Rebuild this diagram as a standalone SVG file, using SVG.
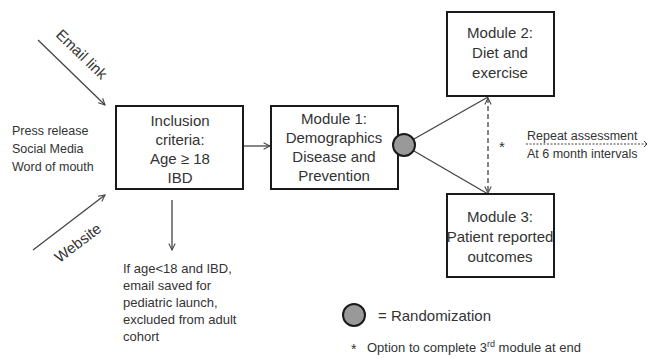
<svg xmlns="http://www.w3.org/2000/svg" width="650" height="358" viewBox="0 0 650 358">
<style>
text{font-family:"Liberation Sans",Arial,sans-serif;fill:#333}
.box{fill:#fff;stroke:#1a1a1a;stroke-width:2}
.bt{font-size:15px;text-anchor:middle}
.ln{stroke:#444;stroke-width:1.3;fill:none}
.sm{font-size:12.5px}
</style>
<defs>
<marker id="ah" viewBox="0 0 10 10" refX="9" refY="5" markerWidth="8" markerHeight="8" orient="auto-start-reverse" markerUnits="userSpaceOnUse">
<path d="M1,1 L9,5 L1,9" fill="none" stroke="#444" stroke-width="1.3"/>
</marker>
</defs>
<rect width="650" height="358" fill="#fff"/>
<g id="connectors">
<line class="ln" x1="38" y1="40" x2="105" y2="105" marker-end="url(#ah)"/>
<line class="ln" x1="33" y1="250" x2="105" y2="195" marker-end="url(#ah)"/>
<line class="ln" x1="243" y1="146" x2="270" y2="146" marker-end="url(#ah)"/>
<line class="ln" x1="172" y1="200" x2="172" y2="250" marker-end="url(#ah)"/>
<line class="ln" x1="414" y1="139" x2="488" y2="97"/>
<line class="ln" x1="414" y1="151" x2="488" y2="194"/>
<line class="ln" x1="488" y1="98" x2="488" y2="193" stroke-dasharray="5,3" marker-start="url(#ah)" marker-end="url(#ah)"/>
<line x1="526" y1="144" x2="646" y2="144" stroke="#444" stroke-width="1" stroke-dasharray="2,1.5"/>
<path d="M644,141 L647,144 L644,147" fill="none" stroke="#444" stroke-width="1"/>
</g>
<g id="sources">
<text class="sm" x="12" y="135">Press release</text>
<text class="sm" x="12" y="153">Social Media</text>
<text class="sm" x="12" y="171">Word of mouth</text>
</g>
<g id="email-label"><text font-size="15" text-anchor="middle" transform="translate(78,58) rotate(44)">Email link</text></g>
<g id="website-label"><text font-size="15" text-anchor="middle" transform="translate(81,247) rotate(-37)">Website</text></g>
<g id="inclusion">
<rect class="box" x="116" y="106" width="127" height="83"/>
<text class="bt" x="180" y="126">Inclusion</text>
<text class="bt" x="180" y="145">criteria:</text>
<text class="bt" x="180" y="164">Age ≥ 18</text>
<text class="bt" x="180" y="183">IBD</text>
</g>
<g id="excluded">
<text font-size="13" x="123" y="273">If age&lt;18 and IBD,</text>
<text font-size="13" x="123" y="290">email saved for</text>
<text font-size="13" x="123" y="307">pediatric launch,</text>
<text font-size="13" x="123" y="324">excluded from adult</text>
<text font-size="13" x="123" y="341">cohort</text>
</g>
<g id="module1">
<rect class="box" x="271" y="106" width="127" height="83"/>
<text class="bt" x="334" y="124">Module 1:</text>
<text class="bt" x="334" y="143">Demographics</text>
<text class="bt" x="334" y="162">Disease and</text>
<text class="bt" x="334" y="181">Prevention</text>
</g>
<g id="randomization">
<circle cx="404" cy="145" r="11" fill="#999" stroke="#1a1a1a" stroke-width="2"/>
</g>
<g id="module2">
<rect class="box" x="447" y="12" width="107" height="84"/>
<text class="bt" x="500" y="38">Module 2:</text>
<text class="bt" x="500" y="58">Diet and</text>
<text class="bt" x="500" y="78">exercise</text>
</g>
<g id="module3">
<rect class="box" x="447" y="194" width="107" height="83"/>
<text class="bt" x="500" y="222">Module 3:</text>
<text class="bt" x="500" y="242">Patient reported</text>
<text class="bt" x="500" y="262">outcomes</text>
</g>
<g id="repeat">
<text font-size="15" x="499" y="152">*</text>
<text class="sm" x="527" y="140">Repeat assessment</text>
<text class="sm" x="527" y="158">At 6 month intervals</text>
</g>
<g id="legend">
<circle cx="354" cy="315" r="11" fill="#999" stroke="#1a1a1a" stroke-width="2"/>
<text font-size="15" x="378" y="321">= Randomization</text>
<text font-size="14" x="351" y="354">*</text>
<text font-size="13" x="367" y="352">Option to complete 3<tspan font-size="9" dy="-5">rd</tspan><tspan dy="5"> module at end</tspan></text>
</g>
</svg>
